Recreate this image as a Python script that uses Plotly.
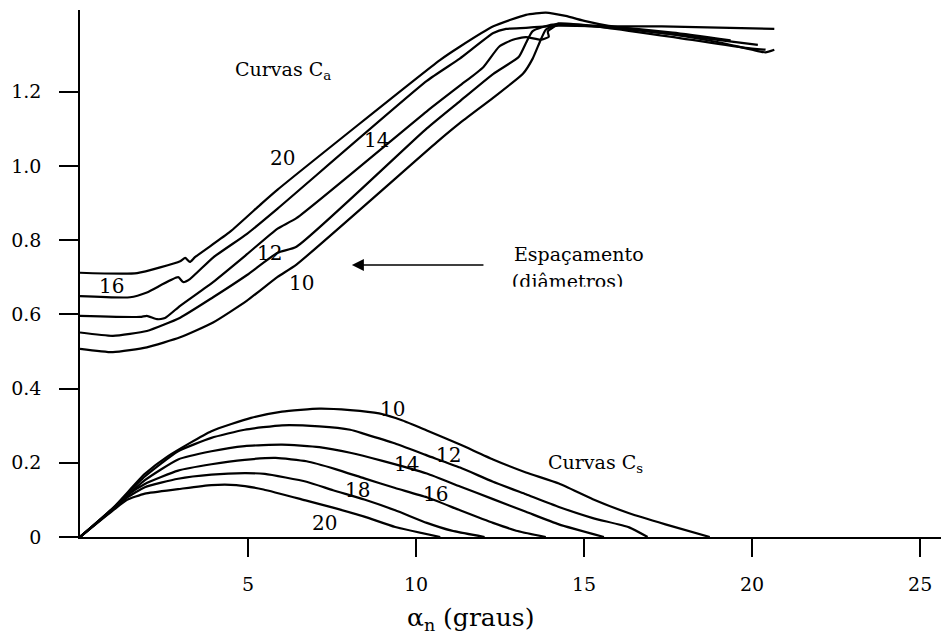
import plotly.graph_objects as go

# ---------------- Ca curves (spacing in diameters) ----------------
ca20_x = [0, 1.70, 2.98, 3.13, 3.27, 3.42, 4.46, 5.41, 5.88, 10.71, 11.30, 12.30, 13.27, 13.86, 14.45, 15.04, 15.69, 17.5, 19.0, 20.0, 20.4, 20.66]
ca20_y = [0.712, 0.711, 0.743, 0.752, 0.741, 0.754, 0.822, 0.899, 0.936, 1.285, 1.321, 1.376, 1.407, 1.413, 1.404, 1.390, 1.378, 1.356, 1.333, 1.313, 1.306, 1.313]

ca16_x = [0, 1.49, 1.99, 2.92, 3.07, 3.27, 3.96, 4.97, 5.88, 10.32, 11.30, 12.30, 12.68, 13.27, 14.24, 15.69, 17.31, 20.66]
ca16_y = [0.649, 0.646, 0.659, 0.700, 0.687, 0.695, 0.753, 0.817, 0.885, 1.229, 1.289, 1.358, 1.369, 1.372, 1.378, 1.376, 1.376, 1.369]

ca14_x = [0, 1.79, 1.99, 2.29, 2.53, 2.98, 3.96, 4.97, 5.88, 6.44, 10.32, 11.30, 12.0, 12.47, 12.88, 13.27, 13.71, 13.95, 13.92, 14.24, 15.69, 17.64, 19.36]
ca14_y = [0.596, 0.593, 0.596, 0.587, 0.590, 0.623, 0.687, 0.762, 0.831, 0.859, 1.147, 1.216, 1.266, 1.321, 1.340, 1.347, 1.340, 1.348, 1.362, 1.381, 1.375, 1.359, 1.338]

ca12_x = [0, 0.98, 1.99, 2.98, 3.96, 4.97, 5.88, 6.44, 10.32, 11.30, 12.30, 13.06, 13.27, 13.47, 14.06, 15.69, 17.97, 20.17]
ca12_y = [0.551, 0.542, 0.555, 0.591, 0.646, 0.706, 0.766, 0.782, 1.101, 1.174, 1.248, 1.294, 1.331, 1.363, 1.381, 1.373, 1.351, 1.326]

ca10_x = [0, 0.98, 1.99, 2.98, 3.96, 4.97, 5.88, 6.44, 10.62, 11.30, 12.30, 13.18, 13.47, 13.71, 13.86, 14.24, 15.69, 17.8, 19.8, 20.4]
ca10_y = [0.507, 0.498, 0.511, 0.538, 0.578, 0.637, 0.701, 0.734, 1.064, 1.115, 1.184, 1.248, 1.289, 1.340, 1.367, 1.384, 1.372, 1.345, 1.318, 1.313]

# ---------------- Cs curves ----------------
cs10_x = [0, 1.0, 1.93, 2.62, 3.91, 5.09, 6.01, 7.12, 8.04, 8.9, 9.6, 10.32, 11.31, 12.29, 13.27, 14.25, 15.26, 16.34, 17.42, 18.74]
cs10_y = [0, 0.080, 0.170, 0.218, 0.285, 0.321, 0.338, 0.346, 0.342, 0.333, 0.314, 0.287, 0.249, 0.209, 0.174, 0.144, 0.102, 0.064, 0.034, 0]

cs12_x = [0, 1.0, 1.93, 2.92, 3.91, 4.90, 6.01, 7.12, 8.04, 8.46, 9.38, 10.32, 11.31, 12.29, 13.27, 14.25, 15.26, 16.34, 16.89]
cs12_y = [0, 0.079, 0.163, 0.231, 0.267, 0.289, 0.301, 0.298, 0.289, 0.278, 0.252, 0.220, 0.187, 0.149, 0.115, 0.081, 0.051, 0.026, 0]

cs14_x = [0, 1.0, 1.93, 2.92, 3.91, 4.90, 6.01, 7.12, 8.04, 9.0, 10.32, 11.31, 12.29, 13.27, 14.25, 15.59]
cs14_y = [0, 0.078, 0.153, 0.209, 0.231, 0.245, 0.249, 0.242, 0.227, 0.205, 0.171, 0.136, 0.102, 0.068, 0.034, 0]

cs16_x = [0, 1.0, 1.4, 1.93, 2.92, 3.91, 4.90, 5.82, 6.74, 7.6, 8.46, 9.38, 10.32, 11.31, 12.29, 12.98, 13.86]
cs16_y = [0, 0.077, 0.112, 0.143, 0.179, 0.196, 0.208, 0.213, 0.204, 0.183, 0.158, 0.132, 0.107, 0.072, 0.038, 0.017, 0]

cs18_x = [0, 1.0, 1.4, 1.93, 2.92, 3.91, 4.90, 5.50, 6.74, 7.53, 8.46, 9.38, 10.32, 11.06, 12.04]
cs18_y = [0, 0.075, 0.106, 0.134, 0.157, 0.168, 0.172, 0.170, 0.149, 0.126, 0.101, 0.072, 0.038, 0.017, 0]

cs20_x = [0, 1.0, 1.4, 1.93, 2.92, 3.91, 4.65, 5.46, 6.74, 7.53, 8.46, 9.38, 10.72]
cs20_y = [0, 0.073, 0.100, 0.117, 0.129, 0.140, 0.140, 0.128, 0.098, 0.079, 0.055, 0.027, 0]

# ---------------- tick labels ----------------
x_ticks = [5, 10, 15, 20, 25]
y_ticks = [0, 0.2, 0.4, 0.6, 0.8, 1.0, 1.2]
y_tick_text = ["0", "0.2", "0.4", "0.6", "0.8", "1.0", "1.2"]

# curve labels: (text, x, y)
ca_labels = [("20", 6.02, 1.020), ("14", 8.81, 1.070), ("12", 5.63, 0.764), ("10", 6.60, 0.684), ("16", 0.95, 0.676)]
cs_labels = [("10", 9.31, 0.346), ("12", 10.96, 0.220), ("14", 9.73, 0.198), ("16", 10.57, 0.117), ("18", 8.26, 0.126), ("20", 7.28, 0.039)]

FONT = "DejaVu Serif"
BLACK = "black"
FS = 19

fig = go.Figure()
series = [
    ("Ca 20", ca20_x, ca20_y), ("Ca 16", ca16_x, ca16_y), ("Ca 14", ca14_x, ca14_y),
    ("Ca 12", ca12_x, ca12_y), ("Ca 10", ca10_x, ca10_y),
    ("Cs 10", cs10_x, cs10_y), ("Cs 12", cs12_x, cs12_y), ("Cs 14", cs14_x, cs14_y),
    ("Cs 16", cs16_x, cs16_y), ("Cs 18", cs18_x, cs18_y), ("Cs 20", cs20_x, cs20_y),
]
for name, xs, ys in series:
    fig.add_trace(go.Scatter(x=xs, y=ys, mode="lines", name=name,
                             line=dict(color=BLACK, width=2.2, shape="spline", smoothing=0.5),
                             showlegend=False, hoverinfo="skip"))

# "(diâmetros)" as a text trace so its lower part can be masked as in the original
fig.add_trace(go.Scatter(x=[12.85], y=[0.683], mode="text", text=["(diâmetros)"],
                         textposition="middle right",
                         textfont=dict(family=FONT, size=FS, color=BLACK),
                         showlegend=False, hoverinfo="skip"))

annotations = []
for t, x, y in ca_labels + cs_labels:
    annotations.append(dict(x=x, y=y, text=t, showarrow=False, xanchor="center", yanchor="middle",
                            font=dict(family=FONT, size=FS + 1, color=BLACK)))
annotations.append(dict(x=4.55, y=1.258, text="Curvas C<sub>a</sub>", showarrow=False,
                        xanchor="left", yanchor="middle", font=dict(family=FONT, size=FS, color=BLACK)))
annotations.append(dict(x=13.86, y=0.198, text="Curvas C<sub>s</sub>", showarrow=False,
                        xanchor="left", yanchor="middle", font=dict(family=FONT, size=FS, color=BLACK)))
annotations.append(dict(x=12.85, y=0.763, text="Espaçamento", showarrow=False,
                        xanchor="left", yanchor="middle", font=dict(family=FONT, size=FS, color=BLACK)))
annotations.append(dict(x=8.09, y=0.733, ax=12.05, ay=0.733, axref="x", ayref="y", xref="x", yref="y",
                        text="", showarrow=True, arrowhead=2, arrowsize=1.6, arrowwidth=1.5,
                        arrowcolor=BLACK))
# x-axis title (placed like in the original, slightly left of the plot centre)
annotations.append(dict(x=0.454, y=-0.155, xref="paper", yref="paper", text="α<sub>n</sub> (graus)",
                        showarrow=False, xanchor="center", yanchor="middle",
                        font=dict(family=FONT, size=25, color=BLACK)))

fig.update_layout(
    width=941, height=636,
    margin=dict(l=80, r=0, t=10, b=99),
    paper_bgcolor="white", plot_bgcolor="white",
    font=dict(family=FONT, size=FS, color=BLACK),
    annotations=annotations,
    shapes=[dict(type="rect", xref="x", yref="y", x0=12.7, x1=17.5, y0=0.62, y1=0.674,
                 fillcolor="white", line=dict(width=0), layer="above")],
)
fig.update_xaxes(range=[0, 25.62], showline=True, linecolor=BLACK, linewidth=1.5,
                 ticks="outside", ticklen=18, tickwidth=1.5, tickcolor=BLACK,
                 tickvals=x_ticks, showgrid=False, zeroline=False,
                 ticklabelstandoff=11,
                 tickfont=dict(family=FONT, size=FS, color=BLACK))
fig.update_yaxes(range=[0, 1.42], showline=True, linecolor=BLACK, linewidth=1.5,
                 ticks="outside", ticklen=19, tickwidth=1.5, tickcolor=BLACK,
                 tickvals=y_ticks, ticktext=y_tick_text, showgrid=False, zeroline=False,
                 ticklabelstandoff=14,
                 tickfont=dict(family=FONT, size=FS, color=BLACK))

fig.write_html("out.html")
